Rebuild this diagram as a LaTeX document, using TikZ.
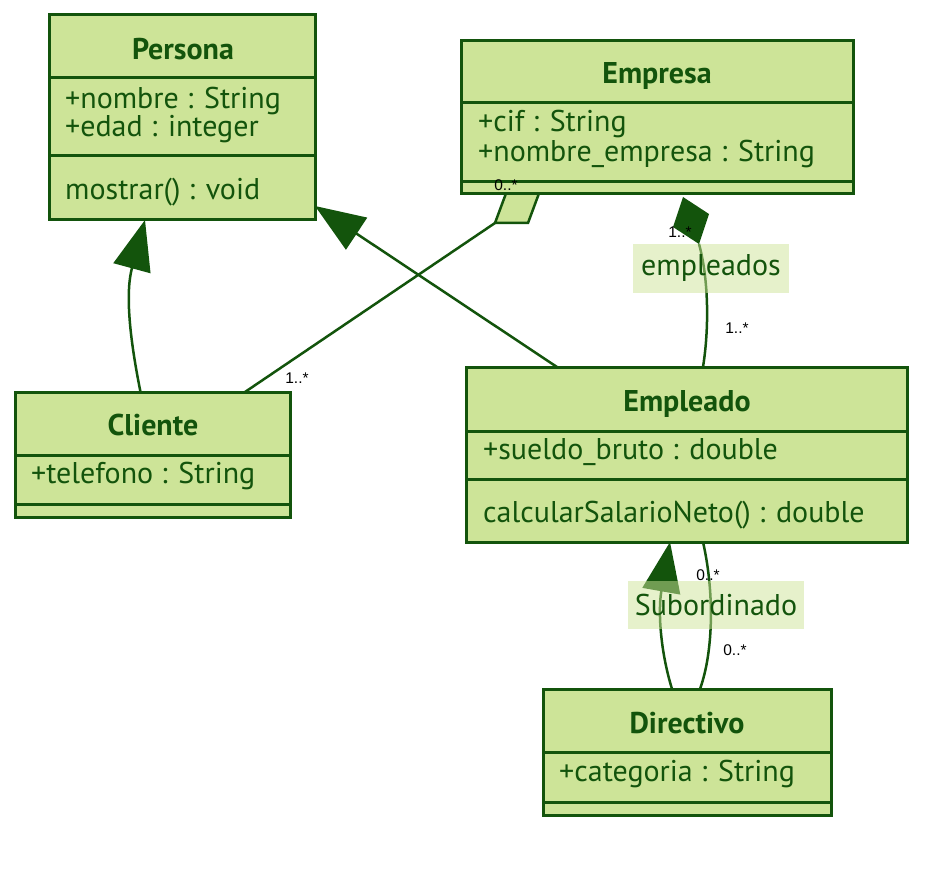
\documentclass[tikz,border=0pt]{standalone}
\usepackage{fontspec}
\setmainfont{PT Sans}
\newfontfamily\multfont{Liberation Sans}
\usetikzlibrary{arrows.meta,backgrounds}
\definecolor{umlfill}{HTML}{CDE498}
\definecolor{umlline}{HTML}{13540C}
\begin{document}
\begin{tikzpicture}[x=1pt,y=-1pt,
    classbox/.style={draw=umlline,fill=umlfill,line width=3pt,inner sep=0pt,outer sep=0pt},
    sepline/.style={draw=umlline,line width=3pt},
    ctitle/.style={text=umlline,font=\fontsize{30}{34}\selectfont\bfseries,anchor=base,inner sep=0pt},
    member/.style={text=umlline,font=\fontsize{30}{34}\selectfont,anchor=base west,inner sep=0pt},
    link/.style={draw=umlline,line width=2.5pt},
    inherit/.style={link,-{Triangle[width=38pt,length=50pt]}},
    rolelbl/.style={fill=umlfill,fill opacity=0.5,text opacity=1,text=umlline,font=\fontsize{30}{34}\selectfont,inner sep=0pt},
    mult/.style={font=\multfont\fontsize{15.5}{18}\selectfont,inner sep=0pt}]
  \useasboundingbox (0,0) rectangle (930,872);
  % Class boxes
  \node[classbox,minimum width=266pt,minimum height=205pt] (persona) at (182,117.5) {};
  \node[classbox,minimum width=392pt,minimum height=153pt] (empresa) at (657,117.5) {};
  \node[classbox,minimum width=275pt,minimum height=125pt] (cliente) at (152.5,454.5) {};
  \node[classbox,minimum width=441pt,minimum height=175pt] (empleado) at (686.5,454.5) {};
  \node[classbox,minimum width=288pt,minimum height=126pt] (directivo) at (687,752) {};
  % Compartment lines
  \draw[sepline] ([yshift=-63pt]persona.north west) -- ([yshift=-63pt]persona.north east);
  \draw[sepline] ([yshift=-141pt]persona.north west) -- ([yshift=-141pt]persona.north east);
  \draw[sepline] ([yshift=-62pt]empresa.north west) -- ([yshift=-62pt]empresa.north east);
  \draw[sepline] ([yshift=-141pt]empresa.north west) -- ([yshift=-141pt]empresa.north east);
  \draw[sepline] ([yshift=-63pt]cliente.north west) -- ([yshift=-63pt]cliente.north east);
  \draw[sepline] ([yshift=-112pt]cliente.north west) -- ([yshift=-112pt]cliente.north east);
  \draw[sepline] ([yshift=-64pt]empleado.north west) -- ([yshift=-64pt]empleado.north east);
  \draw[sepline] ([yshift=-112pt]empleado.north west) -- ([yshift=-112pt]empleado.north east);
  \draw[sepline] ([yshift=-63pt]directivo.north west) -- ([yshift=-63pt]directivo.north east);
  \draw[sepline] ([yshift=-113pt]directivo.north west) -- ([yshift=-113pt]directivo.north east);
  % Persona
  \node[ctitle] (personaT) at (183,60) {Persona};
  \node[member] (personaA1) at (65,108.5) {+nombre : String};
  \node[member] (personaA2) at (65,137) {+edad : integer};
  \node[member] (personaM1) at (65,200) {mostrar() : void};
  % Empresa
  \node[ctitle] (empresaT) at (657,84) {Empresa};
  \node[member] (empresaA1) at (478,132) {+cif : String};
  \node[member] (empresaA2) at (478,162) {+nombre\_empresa : String};
  % Cliente
  \node[ctitle] (clienteT) at (153,435) {Cliente};
  \node[member] (clienteA1) at (31,483) {+telefono : String};
  % Empleado
  \node[ctitle] (empleadoT) at (687,411) {Empleado};
  \node[member] (empleadoA1) at (483,459) {+sueldo\_bruto : double};
  \node[member] (empleadoM1) at (483,522) {calcularSalarioNeto() : double};
  % Directivo
  \node[ctitle] (directivoT) at (687,733) {Directivo};
  \node[member] (directivoA1) at (559,781) {+categoria : String};
  \begin{scope}[on background layer]
    % Inheritance
    \draw[inherit] ([xshift=-12pt]cliente.north) .. controls (128,330) and (126,290) .. ([xshift=-37pt]persona.south);
    \draw[inherit] ([xshift=-129.5pt]empleado.north) -- ([yshift=14pt]persona.south east);
    \draw[inherit] ([xshift=-15pt]directivo.north) .. controls (660,650) and (658,610) .. ([xshift=-16.5pt]empleado.south);
    % Subordinado
    \draw[link] ([xshift=13pt]directivo.north) .. controls (714,650) and (714,590) .. ([xshift=16.5pt]empleado.south);
    % Aggregation
    \coordinate (aggtip) at ([xshift=-162pt,yshift=-29pt]empresa.south);
    \draw[link] ([xshift=92.5pt]cliente.north) -- (aggtip);
    \draw[link,fill=umlfill] (aggtip) -- ++(33,0) -- ++(11.5,-31) -- ++(-33,0) -- cycle;
    % Composition
    \coordinate (comptip) at ([xshift=42pt,yshift=-50pt]empresa.south);
    \draw[link] (comptip) .. controls (709,280) and (709,330) .. ([xshift=16.5pt]empleado.north);
    \fill[umlline] (comptip) -- ++(10,-30) -- ++(-26,-17) -- ++(-10,30) -- cycle;
    % Role labels
    \node[rolelbl,minimum width=156pt,minimum height=49pt] (empleadosL) at (711,268.5) {empleados};
    \node[rolelbl,minimum width=176pt,minimum height=48pt] (subordL) at (716,605) {Subordinado};
  \end{scope}
  % Multiplicities
  \node[mult] (m1) at (506,185) {0..*};
  \node[mult] (m2) at (297,378) {1..*};
  \node[mult] (m3) at (680,232) {1..*};
  \node[mult] (m4) at (737,328) {1..*};
  \node[mult] (m5) at (708,575) {0..*};
  \node[mult] (m6) at (735,650) {0..*};
\end{tikzpicture}
\end{document}
